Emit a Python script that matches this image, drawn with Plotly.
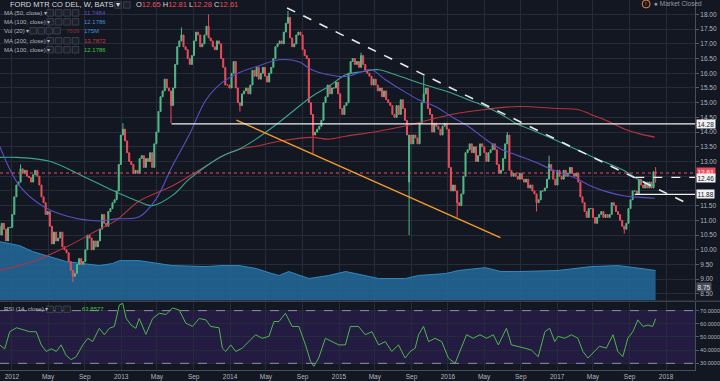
import numpy as np
import pandas as pd
import plotly.graph_objects as go

# ---------------- DATA ----------------
START = "2011-11-21"          # first weekly candle
first_open = 10.8
closes = [
    10.5, 10.9, 10.7, 10.3, 10.75, 10.76, 11.2, 11.8, 12.2, 12.3,
    12.75, 12.6, 12.7, 12.5, 12.45, 12.3, 12.55, 12.7, 12.5, 12.2,
    11.8, 11.6, 11.2, 11.3, 10.8, 10.2, 10.6, 10.3, 10.4, 10.6,
    10.1, 10.0, 9.9, 9.6, 9.3, 9.1, 9.2, 9.5, 9.7, 9.5,
    9.6, 10.0, 10.5, 10.4, 10.0, 10.3, 10.1, 10.3, 10.7, 11.2,
    10.9, 10.8, 11.3, 11.4, 11.6, 11.7, 12.0, 12.9, 13.9, 14.1,
    13.7, 13.3, 13.0, 12.9, 12.6, 12.7, 12.6, 13.1, 13.2, 12.8,
    13.1, 13.0, 13.3, 12.8, 13.6, 14.0, 14.7, 15.2, 15.4, 15.8,
    15.5, 15.4, 14.9, 15.5, 16.3, 16.9, 17.1, 17.3, 16.9, 16.8,
    16.5, 16.3, 16.6, 17.1, 17.4, 17.3, 16.9, 17.0, 17.3, 17.6,
    17.2, 17.1, 16.9, 16.8, 17.1, 17.0, 16.5, 16.2, 15.6, 15.6,
    15.5, 16.0, 16.4, 15.5, 15.0, 14.9, 15.3, 15.4, 15.5, 15.3,
    15.6, 16.1, 15.9, 16.2, 15.8, 16.0, 16.2, 15.9, 15.7, 16.0,
    16.2, 16.5, 16.9, 17.0, 17.1, 17.0, 17.4, 17.7, 17.9, 17.2,
    16.9, 17.0, 17.3, 17.4, 17.3, 16.8, 16.6, 16.5, 15.0, 14.6,
    13.9, 14.0, 14.1, 14.2, 14.4, 15.0, 15.2, 15.6, 15.3, 15.5,
    15.5, 15.7, 15.3, 14.8, 14.6, 14.9, 15.0, 16.0, 16.4, 16.5,
    16.3, 16.4, 16.2, 16.6, 16.3, 16.1, 16.0, 15.9, 15.6, 15.8,
    15.6, 15.4, 15.5, 15.2, 15.4, 15.1, 15.0, 14.9, 14.6, 14.5,
    14.9, 14.6, 15.1, 14.8, 14.4, 13.9, 13.9, 13.6, 13.9, 13.8,
    13.6, 14.3, 15.0, 15.3, 15.5, 14.8, 14.6, 14.0, 14.3, 14.2,
    14.1, 13.9, 14.2, 14.3, 14.1, 12.8, 12.0, 12.2, 12.0, 11.6,
    11.5, 11.9, 12.5, 13.3, 13.4, 13.6, 13.3, 13.5, 13.0, 13.2,
    13.6, 13.5, 13.3, 13.0, 13.3, 13.4, 13.6, 13.4, 12.9, 12.6,
    12.7, 13.1, 13.6, 13.9, 12.7, 12.5, 12.6, 12.5, 12.4, 12.6,
    12.4, 12.3, 12.4, 12.1, 12.2, 12.0, 11.9, 11.6, 11.7, 12.0,
    12.0, 12.1, 12.4, 12.9, 12.7, 12.4, 12.2, 12.7, 12.5, 12.4,
    12.7, 12.5, 12.6, 12.8, 12.6, 12.5, 12.6, 12.3, 11.8, 11.6,
    11.3, 11.1, 11.4, 11.4, 11.1, 10.9, 11.1, 11.2, 11.3, 11.1,
    11.2, 11.1, 11.2, 11.6, 11.5, 11.3, 11.2, 11.0, 10.8, 10.7,
    10.9, 11.4, 11.7, 12.0, 12.0, 11.9, 12.4, 12.2, 12.1, 12.3,
    12.1, 12.3, 12.1, 12.65, 12.61,
]
open_overrides = {196: 12.3, 314: 12.65}
high_ext = {10: 12.9, 59: 14.3, 87: 17.55, 100: 18.0, 138: 18.12, 173: 16.7,
            203: 15.9, 243: 14.0, 263: 13.2, 314: 12.81}
low_ext = {35: 8.9, 82: 14.3, 115: 14.7, 150: 13.26, 196: 10.5, 219: 11.1,
           257: 11.3, 299: 10.55, 314: 12.28}

# moving averages (week index, value)
ma50_w = [0, 9.5, 20.5, 32, 47.7, 55.8, 66.8, 74.9, 82.6, 90.7, 98.8, 106.4, 114.6, 122.7,
          133.7, 143.2, 149.4, 157.5, 165.6, 173.3, 178, 184.7, 194.3, 200.5, 208.6, 216.2,
          224.3, 232.5, 240.1, 248.2, 256.3, 264, 276.8, 283, 291.2, 299.3, 305.5, 313.6]
ma50_v = [13.52, 12.17, 11.49, 11.15, 10.98, 11.05, 11.12, 11.73, 12.84, 13.9, 15.1, 15.68,
          16.02, 16.22, 16.46, 16.39, 16.12, 15.95, 15.89, 16.05, 16.12, 15.78, 15.35, 15.1,
          14.87, 14.53, 14.2, 13.76, 13.42, 13.2, 12.98, 12.74, 12.4, 12.17, 11.96, 11.83,
          11.79, 11.75]
ma100_w = [0, 8.1, 23.9, 39.6, 52.5, 66.8, 73, 82.6, 90.7, 98.8, 106.4, 114.6, 122.7, 133.7,
           149.4, 157.5, 165.6, 173.3, 181.4, 189.5, 200.5, 208.6, 216.2, 224.3, 232.5, 240.1,
           248.2, 256.3, 267.3, 283, 299.3, 305.5, 313.6]
ma100_v = [13.14, 13.14, 13.01, 12.51, 12.07, 11.63, 11.5, 11.84, 12.4, 12.84, 13.18, 13.42,
           13.76, 14.33, 15.21, 15.55, 15.95, 16.05, 16.12, 15.95, 15.68, 15.5, 15.33, 15.1,
           14.87, 14.6, 14.26, 14.03, 13.69, 13.18, 12.68, 12.4, 12.18]
ma200_w = [0, 15.8, 32, 47.7, 55.8, 66.8, 82.6, 98.8, 106.4, 114.6, 122.7, 133.7, 149.4, 157.5,
           165.6, 181.4, 197.1, 216.2, 232.5, 248.2, 267.3, 276.8, 283, 291.2, 299.3, 306.9, 313.6]
ma200_v = [9.3, 9.6, 10.1, 10.7, 11.0, 11.66, 12.17, 12.85, 13.18, 13.42, 13.52, 13.69, 13.82,
           13.76, 13.86, 14.03, 14.26, 14.6, 14.77, 14.87, 14.8, 14.77, 14.6, 14.37, 14.1,
           13.93, 13.83]

# volume envelope (week index, millions)
vol_w = [0, 9.5, 15.8, 23.9, 32, 39.6, 47.7, 54, 57.3, 66.8, 75, 82.6, 98.8, 106.4, 114.6,
         122.7, 130.3, 133.7, 138.4, 148, 157.5, 165.6, 170.4, 175.2, 181.4, 194.3, 200.5,
         213.4, 219.6, 232.5, 240, 248.2, 267.3, 283, 296, 307, 314]
vol_m = [344, 321, 286, 257, 227, 216, 204, 216, 233, 233, 216, 204, 198, 204, 204, 187, 157,
         146, 169, 128, 146, 169, 157, 146, 128, 128, 146, 157, 175, 192, 169, 169, 175, 198,
         204, 187, 175]

# RSI(14) (week index, value)
rsi_w = [0, 2.4, 4.8, 8, 11.1, 14.3, 17.5, 19.9, 22.3, 24.7, 27.1, 29.4, 31.8, 34.2, 36.6,
         39.8, 42.2, 44.5, 47.7, 50.1, 52.5, 54.9, 57.3, 58.9, 60.5, 62.9, 65.2,
         66.8, 70, 73.2, 76.4, 79.6, 82.7, 85.9, 89.1, 92.3, 95.5, 98.7, 101, 105, 106.6,
         108.2, 110.6, 113, 116.1, 119.3, 122.5, 125.7, 128.9, 131.3,
         133.7, 136.8, 140, 143.2, 146.4, 148.8, 150.4, 152.7, 155.9, 159.1, 162.3, 165.5,
         167.9, 171.8, 175, 178.2, 181.4, 184.6, 187.7, 190.9, 194.1, 196.5, 198.9,
         200.5, 202.9, 205.3, 208.4, 211.6, 214.8, 218, 221.1, 223.5, 226.7, 229.9, 233.1,
         236.3, 238.7, 242.6, 245, 248.2, 251.4, 254.6, 257.8, 261, 263.3, 265.7,
         267.3, 270.5, 273.7, 276.8, 279.2, 281.6, 284.8, 287.2, 290.4, 293.6, 295.9, 298.3,
         300.7, 303.1, 305.5, 307.9, 310.3, 312.6, 314]
rsi_v = [44, 41, 54, 57, 55.6, 54, 54, 44, 39, 41, 39, 44, 36, 32.8, 35, 44, 49, 46.5, 56.6,
         51.7, 56.6, 58, 74.3, 75.5, 64.2, 59, 56.6,
         64, 52, 64, 68, 67, 72, 70.5, 60.5, 58, 64, 63, 58, 57, 41.5, 39, 44, 39, 41.5, 46.5,
         51.7, 49, 50.5, 61.7,
         61.7, 68, 58, 58, 44, 31.5, 27.7, 34, 49, 46.5, 44, 44, 58, 58, 51.7, 54, 44, 46.5,
         39, 44, 34, 39, 41.5,
         51.7, 58, 46.5, 49, 46.5, 34, 30, 41.5, 51.7, 49, 51.7, 49, 51.7, 44, 56.6, 44, 43,
         41.5, 40, 35, 54, 56.6, 46.5,
         50.5, 49, 51.7, 49, 39, 34, 39, 43, 41.5, 51.7, 39, 35, 49, 54, 63, 58, 59, 58, 63.86]

# drawn lines
trend_dates = ["2014-07-11", "2018-03-16"]
trend_prices = [18.22, 11.56]
orange_dates = ["2014-01-22", "2016-06-25"]
orange_prices = [14.41, 10.41]
level_prices = [14.28, 12.46, 11.88]
level_starts = ["2013-06-19", "2017-09-20", "2017-09-18"]
last_price = 12.61
vol_marker = 8.75

tick_dates = ["2012-01-01", "2012-05-01", "2012-09-01", "2013-01-01", "2013-05-01", "2013-09-01",
              "2014-01-01", "2014-05-01", "2014-09-01", "2015-01-01", "2015-05-01", "2015-09-01",
              "2016-01-01", "2016-05-01", "2016-09-01", "2017-01-01", "2017-05-01", "2017-09-01",
              "2018-01-01"]
tick_text = ["2012", "May", "Sep", "2013", "May", "Sep", "2014", "May", "Sep", "2015", "May",
             "Sep", "2016", "May", "Sep", "2017", "May", "Sep", "2018"]
price_ticks = [8.5 + 0.5 * k for k in range(20)]
hidden_price_labels = [12.0, 12.5]     # covered by the value boxes in the reference
rsi_ticks = [30, 40, 50, 60, 70]

# ---------------- BUILD ----------------
base = pd.Timestamp(START)
def wdates(w):
    return base + pd.to_timedelta(np.asarray(w, dtype=float) * 7, unit="D")

n = len(closes)
dates = wdates(np.arange(n))
opens = [first_open] + closes[:-1]
for k, v in open_overrides.items():
    opens[k] = v
highs = [max(opens[i], closes[i], high_ext.get(i, 0)) for i in range(n)]
lows = [min(opens[i], closes[i], low_ext.get(i, 99)) for i in range(n)]

BG = "#131722"
GRID = "#262b3a"
TXT = "#b2b5be"
UP, DOWN = "#53b987", "#eb4d5c"
FONT = "Liberation Sans"

fig = go.Figure()
fig.add_trace(go.Scatter(x=wdates(vol_w), y=vol_m, mode="lines", fill="tozeroy",
                         line=dict(color="#2b8ac4", width=1), fillcolor="rgba(35,106,154,0.85)",
                         xaxis="x", yaxis="y", hoverinfo="skip"))
fig.add_trace(go.Scatter(x=wdates(ma200_w), y=ma200_v, mode="lines", line_shape="spline",
                         line=dict(color="#b8323e", width=1.1), xaxis="x", yaxis="y2"))
fig.add_trace(go.Scatter(x=wdates(ma100_w), y=ma100_v, mode="lines", line_shape="spline",
                         line=dict(color="#3aa58f", width=1.1), xaxis="x", yaxis="y2"))
fig.add_trace(go.Scatter(x=wdates(ma50_w), y=ma50_v, mode="lines", line_shape="spline",
                         line=dict(color="#5a50c0", width=1.1), xaxis="x", yaxis="y2"))
fig.add_trace(go.Candlestick(x=dates, open=opens, high=highs, low=lows, close=closes,
                             xaxis="x", yaxis="y2", whiskerwidth=0,
                             increasing=dict(line=dict(color=UP, width=1), fillcolor=UP),
                             decreasing=dict(line=dict(color=DOWN, width=1), fillcolor=DOWN)))
fig.add_trace(go.Scatter(x=wdates(rsi_w), y=rsi_v, mode="lines",
                         line=dict(color="#4cb84c", width=1), xaxis="x2", yaxis="y3"))

W, H = 697.0, 372.0
def px(x):
    return x / W
def py(y):
    return 1 - y / H

shapes = []
# RSI band and dashed bounds
shapes.append(dict(type="rect", xref="paper", yref="y3", x0=0, x1=1, y0=30, y1=70,
                   fillcolor="#241b42", line=dict(width=0), layer="between"))
for lv in (70, 30):
    shapes.append(dict(type="line", xref="paper", yref="y3", x0=0, x1=1, y0=lv, y1=lv,
                       line=dict(color="#8d8fa3", width=1, dash="dash")))
# current price dotted line
shapes.append(dict(type="line", xref="paper", yref="y2", x0=0, x1=1, y0=last_price,
                   y1=last_price, line=dict(color=DOWN, width=1, dash="dot")))
# drawn trend lines
shapes.append(dict(type="line", xref="x", yref="y2", x0=trend_dates[0], x1=trend_dates[1],
                   y0=trend_prices[0], y1=trend_prices[1],
                   line=dict(color="#e8e8e8", width=1.6, dash="dash")))
shapes.append(dict(type="line", xref="x", yref="y2", x0=orange_dates[0], x1=orange_dates[1],
                   y0=orange_prices[0], y1=orange_prices[1],
                   line=dict(color="#f39c27", width=1.4)))
for lp, ls, dsh in zip(level_prices, level_starts, ["solid", "dash", "solid"]):
    shapes.append(dict(type="line", xref="x", yref="y2", x0=ls, x1="2018-06-01", y0=lp, y1=lp,
                       line=dict(color="#f0f0f0", width=1.3, dash=dsh)))
# pane separator
shapes.append(dict(type="line", xref="paper", yref="paper", x0=0, x1=1.04, y0=py(303), y1=py(303),
                   line=dict(color="#3b3f4c", width=1.5)))

# legend buttons (UI decoration)
def boxes(xs, y, w=6.5):
    for x in xs:
        shapes.append(dict(type="rect", xref="paper", yref="paper", x0=px(x), x1=px(x + w),
                           y0=py(y + w / 2), y1=py(y - w / 2),
                           line=dict(color="#3a3f4e", width=1), fillcolor="#1c202b"))
boxes([115, 124], 5)
for yy in (13, 22, 41, 50):
    boxes([47, 55.5, 64, 72.5], yy)
boxes([30, 38, 46, 54], 31)
boxes([47, 55.5, 64], 311)
# market closed icon
shapes.append(dict(type="circle", xref="paper", yref="paper", x0=px(644), x1=px(652),
                   y0=py(8), y1=py(0), line=dict(color="#e8883a", width=1)))

ann = []
def t(x, y, s, color=TXT, size=6, anchor="left"):
    ann.append(dict(xref="paper", yref="paper", x=px(x), y=py(y), text=s, showarrow=False,
                    xanchor=anchor, yanchor="middle", font=dict(family=FONT, size=size, color=color)))

t(8, 5, "FORD MTR CO DEL, W, BATS ▾", "#d6d8de", 7.5)
r = "<span style='color:%s'>%%s</span>" % DOWN
t(134, 5, "O" + r % "12.65" + " H" + r % "12.81" + " L" + r % "12.28" + " C" + r % "12.61",
  "#d6d8de", 7.5)
t(2, 13, "MA (50, close) ▾")
t(82, 13, "11.7484", "#5a50c0")
t(2, 22, "MA (100, close) ▾")
t(82, 22, "12.1786", "#3d8fd8")
t(2, 31, "Vol (20) ▾")
t(64, 31, "7609", "#8b2d33")
t(82, 31, "175M", "#3d8fd8")
t(2, 41, "MA (200, close) ▾")
t(82, 41, "13.7872", "#d0343f")
t(2, 50, "MA (100, close) ▾")
t(82, 50, "12.1786", "#43c043")
t(2, 311, "RSI (14, close) ▾")
t(80, 311, "63.8577", "#43c043")
t(654, 4, "● Market Closed", "#9598a1", 6.5)
t(648, 4, "!", "#e8883a", 5.5, "center")

# axis value boxes
def vbox(v, bg, fg, shift=0):
    ann.append(dict(xref="paper", yref="y2", x=1, y=v, text="%.2f" % v, showarrow=False,
                    xanchor="left", yanchor="middle", xshift=1, yshift=shift, bgcolor=bg,
                    borderpad=0.5, font=dict(family=FONT, size=6.5, color=fg)))
vbox(level_prices[0], "#f2f2f2", "#131722")
vbox(last_price, DOWN, "#ffffff", 0.5)
vbox(level_prices[1], "#f2f2f2", "#131722", -0.5)
vbox(level_prices[2], "#f2f2f2", "#131722")
vbox(vol_marker, "#4a4e5a", "#e0e0e0")

fig.update_layout(
    width=720, height=381,
    margin=dict(l=0, r=23, t=0, b=9),
    paper_bgcolor=BG, plot_bgcolor=BG,
    showlegend=False, hovermode=False,
    font=dict(family=FONT, color=TXT, size=7),
    shapes=shapes, annotations=ann,
    xaxis=dict(domain=[0, 1], anchor="y", type="date", range=["2011-11-22", "2018-04-08"],
               tickvals=tick_dates, ticktext=tick_text, showticklabels=False,
               showgrid=True, gridcolor=GRID, gridwidth=1, zeroline=False,
               rangeslider=dict(visible=False)),
    yaxis=dict(domain=[1 - 302 / H, 1], range=[0, 1761], visible=False, showgrid=False,
               fixedrange=True),
    yaxis2=dict(overlaying="y", anchor="x", side="right", range=[8.28, 18.49],
                tickvals=price_ticks,
                ticktext=["" if v in hidden_price_labels else "%.2f" % v for v in price_ticks],
                showgrid=True, gridcolor=GRID, zeroline=False, ticks="outside", ticklen=3,
                tickcolor="#555a66", showline=True, linecolor="#4a4e5a",
                tickfont=dict(size=6.5, color=TXT)),
    xaxis2=dict(domain=[0, 1], anchor="y3", matches="x", type="date",
                tickvals=tick_dates, ticktext=tick_text, showgrid=True, gridcolor=GRID,
                zeroline=False, ticks="", showline=True, linecolor="#4a4e5a",
                tickfont=dict(size=6.5, color=TXT)),
    yaxis3=dict(domain=[0, 1 - 304 / H], range=[24.94, 76.26], side="right",
                tickvals=rsi_ticks, ticktext=["%.4f" % v for v in rsi_ticks],
                showgrid=True, gridcolor=GRID, zeroline=False, ticks="outside", ticklen=3,
                tickcolor="#555a66", showline=True, linecolor="#4a4e5a",
                tickfont=dict(size=5.5, color=TXT)),
)

fig.write_html("out.html", config={"displayModeBar": False},
               post_script="document.body.style.margin='0';document.body.style.background='#131722';")
